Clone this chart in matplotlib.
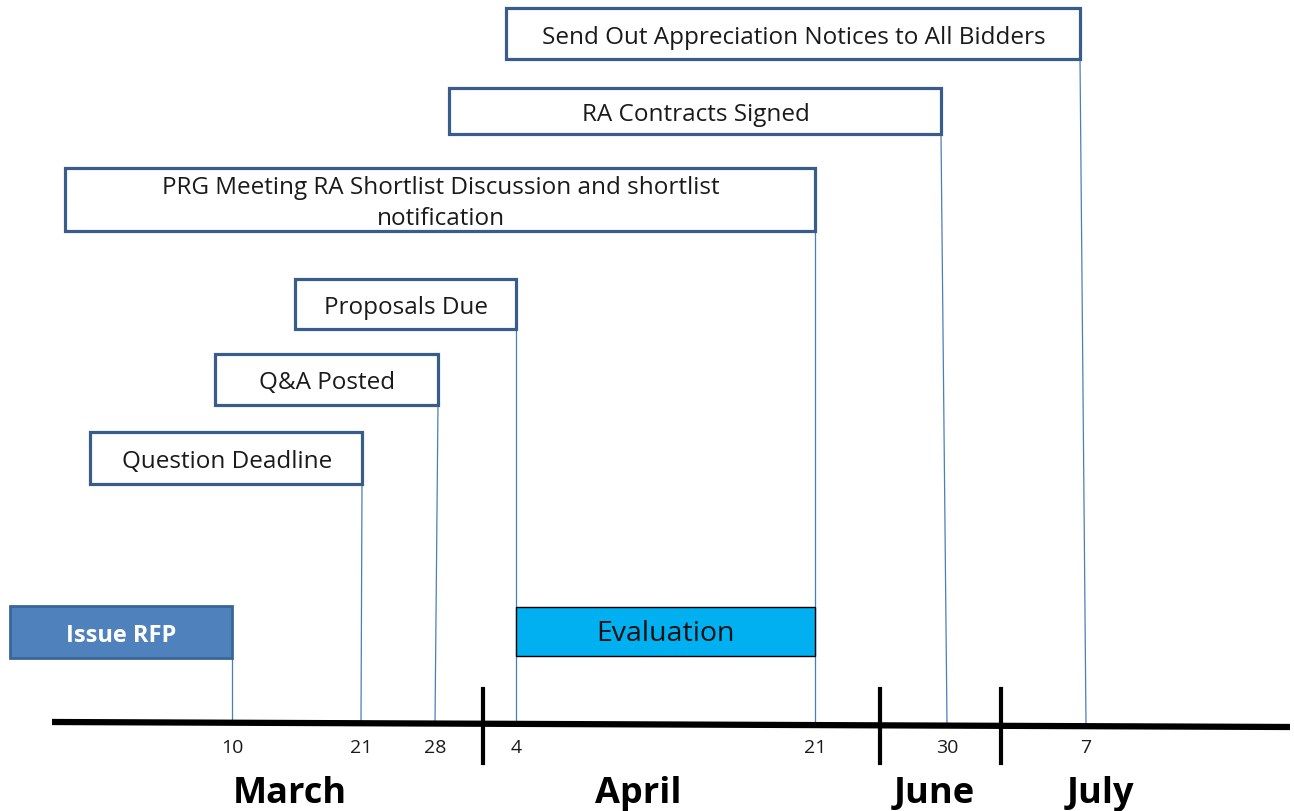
import matplotlib
matplotlib.use("Agg")
import matplotlib.pyplot as plt
from matplotlib.patches import Rectangle

plt.rcParams['font.family'] = ['Open Sans', 'DejaVu Sans']

# timeline ticks (schematic positions along the axis)
tick_x = [232, 361, 435, 516, 815, 947, 1086]
tick_labels = ["10", "21", "28", "4", "21", "30", "7"]

month_names = ["March", "April", "June", "July"]
month_x = [290, 638, 934, 1100]
month_breaks = [483, 880, 1001]

# milestone boxes: label, left, right, top, bottom, date position
events = ["Question Deadline", "Q&A Posted", "Proposals Due",
          "PRG Meeting RA Shortlist Discussion and shortlist\nnotification",
          "RA Contracts Signed", "Send Out Appreciation Notices to All Bidders"]
ev_left = [90, 215, 295, 65, 449, 506]
ev_right = [362, 438, 516, 815, 941, 1080]
ev_top = [433, 355, 280, 169, 89, 9]
ev_bottom = [485, 406, 330, 232, 135, 60]
ev_date = [361, 435, 516, 815, 947, 1086]

# phase bars
phases = ["Issue RFP", "Evaluation"]
ph_start = [10, 516]
ph_end = [232, 815]
ph_top = [607, 608]
ph_bottom = [659, 657]

base_y = 725

fig = plt.figure(figsize=(12.94, 8.12), dpi=100)
ax = fig.add_axes([0, 0, 1, 1])
ax.set_xlim(0, 1294)
ax.set_ylim(812, 0)
ax.axis("off")

# connectors
conn = "#4A7EBB"
for i in range(len(events)):
    ax.plot([ev_right[i], ev_date[i]], [ev_bottom[i], base_y], color=conn, lw=0.9, zorder=1)
ax.plot([ph_end[0], ph_end[0]], [ph_bottom[0], base_y], color=conn, lw=0.9, zorder=1)

# milestone boxes
for i, lab in enumerate(events):
    ax.add_patch(Rectangle((ev_left[i], ev_top[i]), ev_right[i] - ev_left[i],
                           ev_bottom[i] - ev_top[i], facecolor="white",
                           edgecolor="#385D8A", lw=2.3, zorder=3))
    ax.text((ev_left[i] + ev_right[i]) / 2 + 1, (ev_top[i] + ev_bottom[i]) / 2 + 3, lab,
            ha="center", va="center", fontsize=17.5, color="#1a1a1a",
            linespacing=1.42, zorder=4)

# phases
ax.add_patch(Rectangle((ph_start[0], ph_top[0]), ph_end[0] - ph_start[0],
                       ph_bottom[0] - ph_top[0], facecolor="#4F81BD",
                       edgecolor="#3A6597", lw=2, zorder=3))
ax.text((ph_start[0] + ph_end[0]) / 2, (ph_top[0] + ph_bottom[0]) / 2 + 3, phases[0],
        ha="center", va="center", fontsize=17, fontweight="bold", color="white", zorder=4)
ax.add_patch(Rectangle((ph_start[1], ph_top[1]), ph_end[1] - ph_start[1],
                       ph_bottom[1] - ph_top[1], facecolor="#00B0F0",
                       edgecolor="black", lw=1, zorder=3))
ax.text((ph_start[1] + ph_end[1]) / 2, (ph_top[1] + ph_bottom[1]) / 2 + 2, phases[1],
        ha="center", va="center", fontsize=20.5, color="#111111", zorder=4)

# axis line
ax.plot([52, 1290], [723, 728], color="black", lw=4.5, solid_capstyle="butt", zorder=2)
for b in month_breaks:
    ax.plot([b, b], [690, 764], color="black", lw=3, zorder=2)

for x, t in zip(tick_x, tick_labels):
    ax.text(x, 748, t, ha="center", va="center", fontsize=14, color="#1a1a1a")

for x, m in zip(month_x, month_names):
    ax.text(x, 794, m, ha="center", va="center", fontsize=26, fontweight="bold", color="black")

fig.savefig("out.png", dpi=100)
